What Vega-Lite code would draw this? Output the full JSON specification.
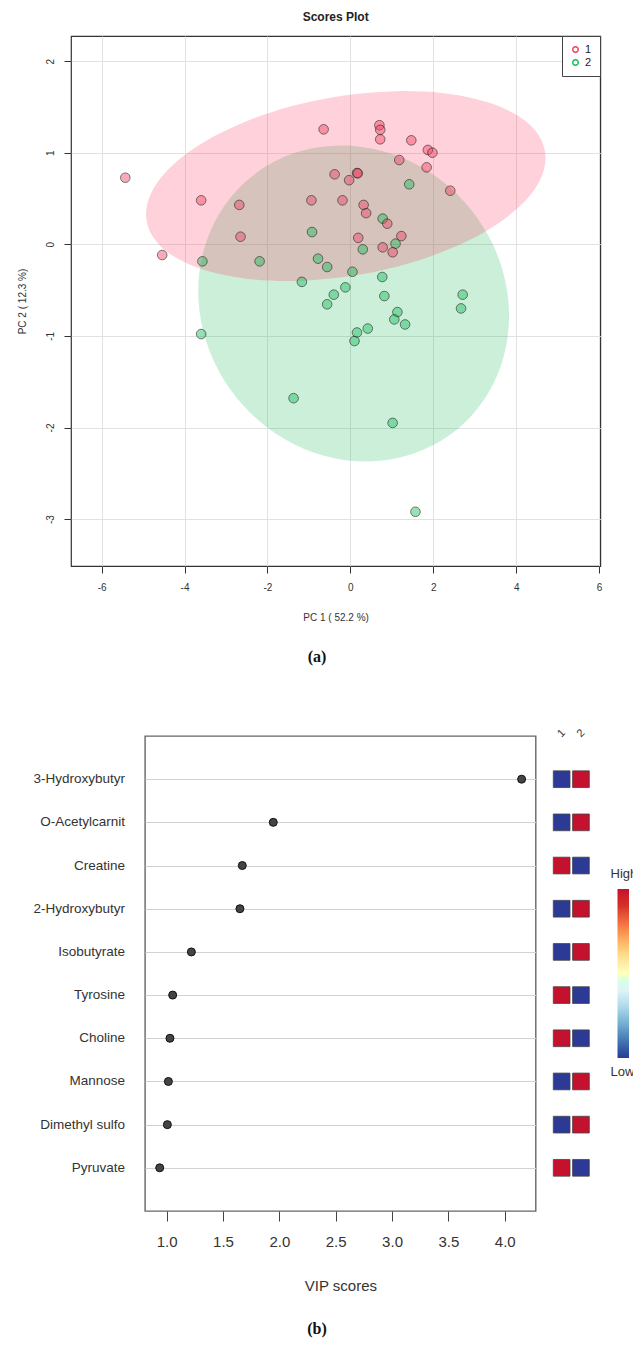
{
  "$schema": "https://vega.github.io/schema/vega-lite/v6.json",
  "background": "white",
  "padding": {"left": 16, "top": 9, "right": 0, "bottom": 0},
  "config": {
    "font": "Liberation Sans",
    "view": {"stroke": null},
    "axis": {"labelFont": "Liberation Sans", "titleFont": "Liberation Sans", "titleFontWeight": "normal"},
    "legend": {"labelFont": "Liberation Sans", "titleFont": "Liberation Sans"}
  },
  "datasets": {
    "scores": [
      {"group": "2", "x": -3.57, "y": -0.186}, {"group": "2", "x": -2.19, "y": -0.186}, {"group": "2", "x": -0.925, "y": 0.134},
      {"group": "2", "x": -0.78, "y": -0.157}, {"group": "2", "x": -0.56, "y": -0.248}, {"group": "2", "x": 0.05, "y": -0.30},
      {"group": "2", "x": 1.42, "y": 0.655}, {"group": "2", "x": 0.78, "y": 0.28}, {"group": "2", "x": 0.30, "y": -0.055},
      {"group": "2", "x": 1.09, "y": 0.007}, {"group": "2", "x": 0.77, "y": -0.357}, {"group": "2", "x": -1.17, "y": -0.41},
      {"group": "2", "x": -0.12, "y": -0.47}, {"group": "2", "x": -0.40, "y": -0.55}, {"group": "2", "x": -0.56, "y": -0.655},
      {"group": "2", "x": -3.60, "y": -0.98}, {"group": "2", "x": 0.16, "y": -0.963}, {"group": "2", "x": 0.10, "y": -1.056},
      {"group": "2", "x": -1.37, "y": -1.68}, {"group": "2", "x": 0.82, "y": -0.565}, {"group": "2", "x": 2.71, "y": -0.55},
      {"group": "2", "x": 2.67, "y": -0.70}, {"group": "2", "x": 1.135, "y": -0.74}, {"group": "2", "x": 1.06, "y": -0.82},
      {"group": "2", "x": 1.32, "y": -0.875}, {"group": "2", "x": 0.42, "y": -0.92}, {"group": "2", "x": 1.02, "y": -1.95},
      {"group": "2", "x": 1.57, "y": -2.92},
      {"group": "1", "x": -5.43, "y": 0.727}, {"group": "1", "x": -4.54, "y": -0.117}, {"group": "1", "x": -3.60, "y": 0.48},
      {"group": "1", "x": -2.68, "y": 0.43}, {"group": "1", "x": -2.65, "y": 0.083}, {"group": "1", "x": -0.645, "y": 1.255},
      {"group": "1", "x": -0.94, "y": 0.48}, {"group": "1", "x": -0.38, "y": 0.764}, {"group": "1", "x": -0.19, "y": 0.48},
      {"group": "1", "x": -0.03, "y": 0.70}, {"group": "1", "x": 0.16, "y": 0.778}, {"group": "1", "x": 0.18, "y": 0.775},
      {"group": "1", "x": 0.70, "y": 1.30}, {"group": "1", "x": 0.72, "y": 1.25}, {"group": "1", "x": 0.72, "y": 1.146},
      {"group": "1", "x": 1.47, "y": 1.135}, {"group": "1", "x": 1.87, "y": 1.03}, {"group": "1", "x": 1.98, "y": 1.00},
      {"group": "1", "x": 1.18, "y": 0.92}, {"group": "1", "x": 1.84, "y": 0.84}, {"group": "1", "x": 2.41, "y": 0.585},
      {"group": "1", "x": 0.32, "y": 0.43}, {"group": "1", "x": 0.38, "y": 0.34}, {"group": "1", "x": 0.89, "y": 0.225},
      {"group": "1", "x": 1.23, "y": 0.09}, {"group": "1", "x": 0.19, "y": 0.07}, {"group": "1", "x": 0.78, "y": -0.033},
      {"group": "1", "x": 1.02, "y": -0.087}
    ],
    "ellPink": [
      {"i": 0, "x": 4.71, "y": 0.943}, {"i": 1, "x": 4.546, "y": 1.189}, {"i": 2, "x": 4.064, "y": 1.397},
      {"i": 3, "x": 3.298, "y": 1.553}, {"i": 4, "x": 2.30, "y": 1.647}, {"i": 5, "x": 1.137, "y": 1.672},
      {"i": 6, "x": -0.11, "y": 1.627}, {"i": 7, "x": -1.357, "y": 1.514}, {"i": 8, "x": -2.52, "y": 1.341},
      {"i": 9, "x": -3.518, "y": 1.120}, {"i": 10, "x": -4.284, "y": 0.866}, {"i": 11, "x": -4.766, "y": 0.596},
      {"i": 12, "x": -4.93, "y": 0.329}, {"i": 13, "x": -4.766, "y": 0.083}, {"i": 14, "x": -4.284, "y": -0.125},
      {"i": 15, "x": -3.518, "y": -0.281}, {"i": 16, "x": -2.52, "y": -0.375}, {"i": 17, "x": -1.357, "y": -0.400},
      {"i": 18, "x": -0.11, "y": -0.355}, {"i": 19, "x": 1.137, "y": -0.242}, {"i": 20, "x": 2.30, "y": -0.069},
      {"i": 21, "x": 3.298, "y": 0.152}, {"i": 22, "x": 4.064, "y": 0.406}, {"i": 23, "x": 4.546, "y": 0.676}
    ],
    "ellGreen": [
      {"i": 0, "x": 3.83, "y": -0.781}, {"i": 1, "x": 3.702, "y": -0.332}, {"i": 2, "x": 3.328, "y": 0.097},
      {"i": 3, "x": 2.732, "y": 0.474}, {"i": 4, "x": 1.955, "y": 0.776}, {"i": 5, "x": 1.051, "y": 0.980},
      {"i": 6, "x": 0.08, "y": 1.074}, {"i": 7, "x": -0.891, "y": 1.050}, {"i": 8, "x": -1.795, "y": 0.911},
      {"i": 9, "x": -2.572, "y": 0.666}, {"i": 10, "x": -3.168, "y": 0.331}, {"i": 11, "x": -3.542, "y": -0.070},
      {"i": 12, "x": -3.67, "y": -0.511}, {"i": 13, "x": -3.542, "y": -0.960}, {"i": 14, "x": -3.168, "y": -1.389},
      {"i": 15, "x": -2.572, "y": -1.766}, {"i": 16, "x": -1.795, "y": -2.068}, {"i": 17, "x": -0.891, "y": -2.272},
      {"i": 18, "x": 0.08, "y": -2.366}, {"i": 19, "x": 1.051, "y": -2.342}, {"i": 20, "x": 1.955, "y": -2.203},
      {"i": 21, "x": 2.732, "y": -1.958}, {"i": 22, "x": 3.328, "y": -1.623}, {"i": 23, "x": 3.702, "y": -1.222}
    ],
    "vip": [
      {"name": "3-Hydroxybutyr", "vip": 4.15}, {"name": "O-Acetylcarnit", "vip": 1.946}, {"name": "Creatine", "vip": 1.671},
      {"name": "2-Hydroxybutyr", "vip": 1.650}, {"name": "Isobutyrate", "vip": 1.219}, {"name": "Tyrosine", "vip": 1.053},
      {"name": "Choline", "vip": 1.029}, {"name": "Mannose", "vip": 1.015}, {"name": "Dimethyl sulfo", "vip": 1.006},
      {"name": "Pyruvate", "vip": 0.938}
    ],
    "heat": [
      {"name": "3-Hydroxybutyr", "grp": "1", "level": 0}, {"name": "3-Hydroxybutyr", "grp": "2", "level": 1},
      {"name": "O-Acetylcarnit", "grp": "1", "level": 0}, {"name": "O-Acetylcarnit", "grp": "2", "level": 1},
      {"name": "Creatine", "grp": "1", "level": 1}, {"name": "Creatine", "grp": "2", "level": 0},
      {"name": "2-Hydroxybutyr", "grp": "1", "level": 0}, {"name": "2-Hydroxybutyr", "grp": "2", "level": 1},
      {"name": "Isobutyrate", "grp": "1", "level": 0}, {"name": "Isobutyrate", "grp": "2", "level": 1},
      {"name": "Tyrosine", "grp": "1", "level": 1}, {"name": "Tyrosine", "grp": "2", "level": 0},
      {"name": "Choline", "grp": "1", "level": 1}, {"name": "Choline", "grp": "2", "level": 0},
      {"name": "Mannose", "grp": "1", "level": 0}, {"name": "Mannose", "grp": "2", "level": 1},
      {"name": "Dimethyl sulfo", "grp": "1", "level": 0}, {"name": "Dimethyl sulfo", "grp": "2", "level": 1},
      {"name": "Pyruvate", "grp": "1", "level": 1}, {"name": "Pyruvate", "grp": "2", "level": 0}
    ]
  },
  "concat": [
    {
      "width": 529.3,
      "height": 530,
      "title": {"text": "Scores Plot", "fontSize": 12, "fontWeight": "bold", "color": "#222", "frame": "group", "offset": 12},
      "view": {"stroke": "#333", "strokeWidth": 1.2},
      "encoding": {
        "x": {
          "field": "x", "type": "quantitative",
          "scale": {"domain": [-6.74, 6.03], "nice": false, "zero": false},
          "axis": {
            "values": [-6, -4, -2, 0, 2, 4, 6], "labelExpr": "'' + datum.value",
            "domain": false, "tickSize": 7, "tickColor": "#333", "labelFontSize": 10, "labelColor": "#333",
            "labelPadding": 9, "title": "PC 1 ( 52.2 %)", "titleFontSize": 10, "titleColor": "#333", "titlePadding": 20,
            "grid": true, "gridColor": "#e2e2e2"
          }
        },
        "y": {
          "field": "y", "type": "quantitative",
          "scale": {"domain": [-3.512, 2.274], "nice": false, "zero": false},
          "axis": {
            "values": [-3, -2, -1, 0, 1, 2], "labelExpr": "'' + datum.value",
            "domain": false, "tickSize": 7, "tickColor": "#333", "labelFontSize": 10, "labelColor": "#333",
            "labelAngle": 270, "labelAlign": "center", "labelBaseline": "bottom", "labelPadding": 9,
            "title": "PC 2 ( 12.3 %)", "titleFontSize": 10, "titleColor": "#333", "titleAngle": 270,
            "titleAlign": "center", "titleBaseline": "bottom", "titleX": -44,
            "grid": true, "gridColor": "#e2e2e2"
          }
        }
      },
      "layer": [
        {
          "data": {"name": "ellGreen"},
          "mark": {"type": "line", "interpolate": "cardinal-closed", "fill": "#14B850", "fillOpacity": 0.22, "strokeWidth": 0},
          "encoding": {"order": {"field": "i", "type": "quantitative"}}
        },
        {
          "data": {"name": "ellPink"},
          "mark": {"type": "line", "interpolate": "cardinal-closed", "fill": "#FF2D55", "fillOpacity": 0.22, "strokeWidth": 0},
          "encoding": {"order": {"field": "i", "type": "quantitative"}}
        },
        {
          "data": {"name": "scores"},
          "mark": {"type": "point", "shape": "circle", "filled": true, "size": 92, "stroke": "#1a1a1a", "strokeWidth": 1},
          "encoding": {
            "fillOpacity": {"value": 0.62},
            "strokeOpacity": {"value": 0.85},
            "color": {
              "field": "group", "type": "nominal",
              "scale": {"domain": ["1", "2"], "range": ["#F23D5E", "#12BD56"]},
              "legend": {
                "orient": "top-right", "offset": 0, "title": null, "padding": 8,
                "strokeColor": "#444", "fillColor": "white", "labelFontSize": 11, "labelColor": "#222",
                "symbolType": "M -1 0 A 1 1 0 1 0 1 0 A 1 1 0 1 0 -1 0 Z M -0.58 0 A 0.58 0.58 0 1 1 0.58 0 A 0.58 0.58 0 1 1 -0.58 0 Z",
                "symbolSize": 49, "symbolStrokeColor": "transparent", "symbolStrokeWidth": 0, "symbolOpacity": 1,
                "rowPadding": 1, "labelOffset": 4
              }
            }
          }
        }
      ]
    },
    {
      "width": 492,
      "height": 103,
      "data": {"values": [{"t": "(a)"}]},
      "mark": {"type": "text", "font": "Liberation Serif", "fontSize": 16, "fontWeight": "bold", "color": "#111", "dy": -17.5},
      "encoding": {"text": {"field": "t", "type": "nominal"}}
    },
    {
      "hconcat": [
        {
          "width": 58,
          "height": 475,
          "data": {"name": "vip"},
          "mark": {"type": "text", "align": "right", "dx": -4, "fontSize": 13.5, "color": "#333"},
          "encoding": {
            "y": {"field": "name", "type": "nominal", "sort": null,
              "scale": {"type": "point", "padding": 1, "domain": ["3-Hydroxybutyr", "O-Acetylcarnit", "Creatine", "2-Hydroxybutyr", "Isobutyrate", "Tyrosine", "Choline", "Mannose", "Dimethyl sulfo", "Pyruvate"]},
              "axis": null},
            "x": {"value": "width"},
            "text": {"field": "name", "type": "nominal"}
          }
        },
        {
          "width": 390.7,
          "height": 475,
          "data": {"name": "vip"},
          "view": {"stroke": "#666", "strokeWidth": 1.4},
          "mark": {"type": "circle", "size": 64, "color": "#444", "opacity": 1, "stroke": "#111", "strokeWidth": 1},
          "encoding": {
            "x": {
              "field": "vip", "type": "quantitative", "title": "VIP scores",
              "scale": {"domain": [0.8075, 4.275], "nice": false, "zero": false},
              "axis": {"values": [1, 1.5, 2, 2.5, 3, 3.5, 4], "format": ".1f", "grid": false, "domain": false,
                "tickSize": 10, "tickColor": "#444", "labelFontSize": 15, "labelColor": "#333", "labelPadding": 13,
                "titleFontSize": 15, "titleColor": "#333", "titlePadding": 29}
            },
            "y": {
              "field": "name", "type": "nominal", "sort": null,
              "scale": {"type": "point", "padding": 1, "domain": ["3-Hydroxybutyr", "O-Acetylcarnit", "Creatine", "2-Hydroxybutyr", "Isobutyrate", "Tyrosine", "Choline", "Mannose", "Dimethyl sulfo", "Pyruvate"]},
              "axis": {"labels": false, "ticks": false, "domain": false, "title": null, "grid": true, "gridColor": "#d2d2d2", "gridWidth": 1.2}
            }
          }
        },
        {
          "width": 38.6,
          "height": 475,
          "data": {"name": "heat"},
          "mark": {"type": "rect", "stroke": "#444", "strokeWidth": 0.8},
          "encoding": {
            "x": {
              "field": "grp", "type": "nominal",
              "scale": {"paddingInner": 0.135, "paddingOuter": 0.0675},
              "axis": {"orient": "top", "title": null, "domain": false, "ticks": false, "labelAngle": -45,
                "labelFontSize": 11, "labelColor": "#333", "labelPadding": 3, "labelAlign": "center", "labelBaseline": "middle"}
            },
            "y": {
              "field": "name", "type": "nominal", "sort": null,
              "scale": {"domain": ["3-Hydroxybutyr", "O-Acetylcarnit", "Creatine", "2-Hydroxybutyr", "Isobutyrate", "Tyrosine", "Choline", "Mannose", "Dimethyl sulfo", "Pyruvate"], "paddingInner": 0.613, "paddingOuter": 0.8065},
              "axis": null
            },
            "fill": {
              "field": "level", "type": "quantitative",
              "scale": {
                "domain": [0, 0.1, 0.2, 0.3, 0.4, 0.5, 0.6, 0.7, 0.8, 0.9, 1],
                "range": ["#2C3A96", "#4575b4", "#74add1", "#abd9e9", "#e0f3f8", "#ffffbf", "#fee090", "#fdae61", "#f46d43", "#d73027", "#C4122E"]
              },
              "legend": {
                "orient": "none", "legendX": 65.5, "legendY": 153, "direction": "vertical",
                "gradientLength": 169, "gradientThickness": 11.5, "gradientStrokeWidth": 0,
                "title": null, "values": [0, 1], "labelExpr": "datum.value > 0.5 ? 'High' : 'Low'",
                "labelFontSize": 13, "labelColor": "#333", "labelOverlap": false, "padding": 0,
                "encode": {"labels": {"update": {
                  "x": {"value": -7}, "align": {"value": "left"},
                  "baseline": {"signal": "datum.value > 0.5 ? 'bottom' : 'top'"},
                  "dy": {"signal": "datum.value > 0.5 ? -8 : 8"}
                }}}
              }
            }
          }
        }
      ],
      "spacing": 15,
      "resolve": {"scale": {"fill": "independent"}}
    },
    {
      "width": 492,
      "height": 70,
      "data": {"values": [{"t": "(b)"}]},
      "mark": {"type": "text", "font": "Liberation Serif", "fontSize": 16, "fontWeight": "bold", "color": "#111"},
      "encoding": {"text": {"field": "t", "type": "nominal"}}
    }
  ],
  "columns": 1,
  "align": "none",
  "spacing": 0,
  "resolve": {"scale": {"color": "independent", "fill": "independent"}, "legend": {"color": "independent", "fill": "independent"}}
}
